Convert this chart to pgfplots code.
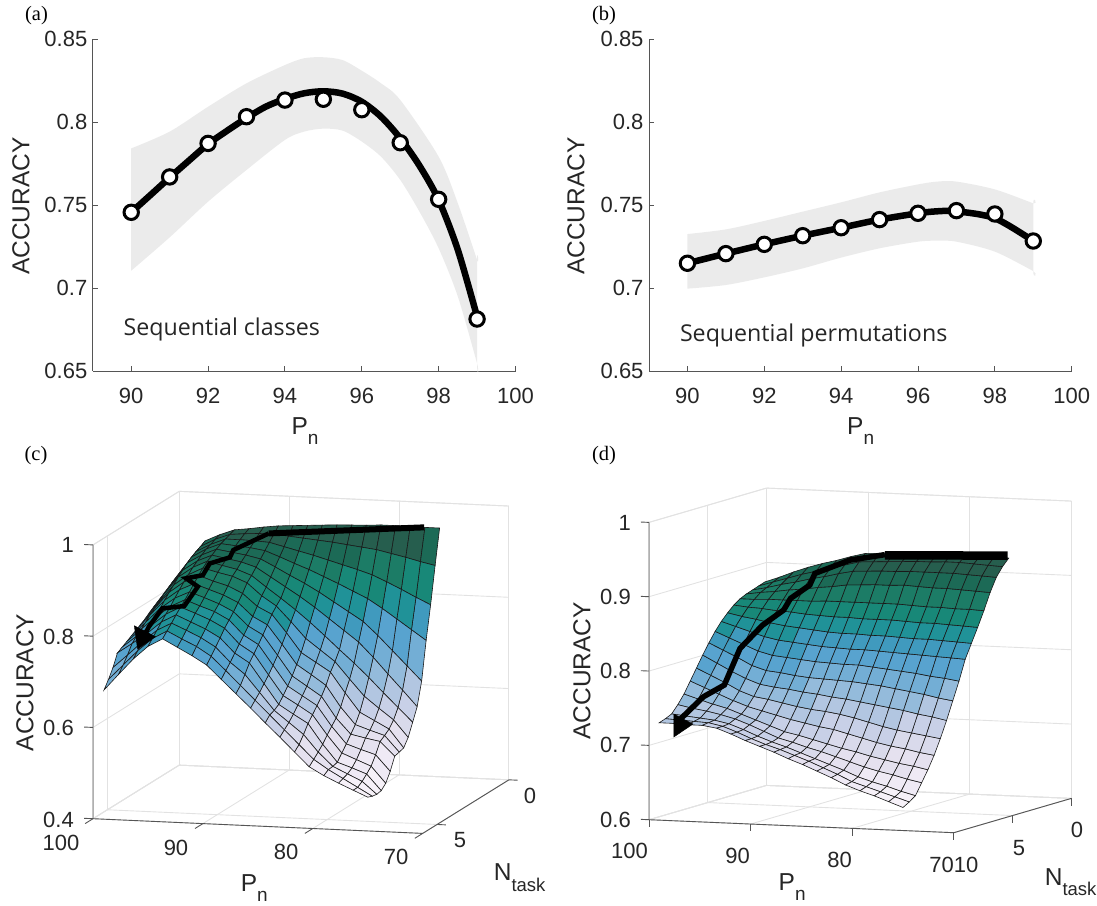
\documentclass[border=0pt]{standalone}
\usepackage{pgfplots}
\pgfplotsset{compat=1.18}
\usepackage{fontspec}
\setmainfont{Liberation Sans}
\newfontfamily\tnr{Liberation Serif}
\newfontfamily\osans{Open Sans}
\definecolor{axd}{HTML}{555555}
\definecolor{greyband}{HTML}{EBEBEB}
\definecolor{gridc}{HTML}{E2E2E2}
\newcommand{\fa}{\fontsize{22}{26}\selectfont}
\newcommand{\fb}{\fontsize{24.5}{28}\selectfont}
\newcommand{\Pn}{P\raisebox{-9.5pt}{\fontsize{19}{19}\selectfont n}}
\newcommand{\Nt}{N\raisebox{-10.5pt}{\fontsize{18.5}{19}\selectfont task}}
\newcommand{\tl}[3]{\node[inner sep=0pt,font=\fa,text=black!85] at ({#1pt},{(905-#2)*1pt}) {#3};}
\newcommand{\tr}[3]{\node[inner sep=0pt,anchor=east,font=\fa,text=black!85] at ({#1pt},{(905-#2)*1pt}) {#3};}
\newcommand{\lb}[3]{\node[inner sep=0pt,anchor=base west,font=\fb,text=black!85] at ({#1pt},{(905-#2)*1pt}) {#3};}
\newcommand{\yl}[3]{\node[inner sep=0pt,font=\fb,rotate=90,text=black!85] at ({#1pt},{(905-#2)*1pt}) {#3};}
\newcommand{\pl}[3]{\node[inner sep=0pt,font=\fontsize{20.5}{22}\selectfont\tnr] at ({#1pt},{(905-#2)*1pt}) {#3};}
\pgfplotsset{
  flat2d/.style={
    scale only axis, width=422.7pt, height=332pt,
    xmin=89, xmax=100, ymin=0.65, ymax=0.85,
    axis x line*=bottom, axis y line*=left,
    axis line style={draw=axd,line width=0.9pt},
    tick style={draw=axd,line width=0.9pt},
    tick align=inside, major tick length=5pt,
    xtick={90,92,94,96,98,100},
    ytick={0.65,0.7,0.75,0.8,0.85},
    yticklabels={0.65,0.7,0.75,0.8,0.85},
    xticklabels={90,92,94,96,98,100},
    tick label style={font=\fa,text=black!85},
    xticklabel style={yshift=-14pt},
    yticklabel style={xshift=-2pt},
    clip=false,
  },
  surf3d/.style={
    axis line style={draw=gridc,line width=0.9pt},
    grid=major, grid style={draw=gridc,line width=0.9pt},
    major tick length=0pt,
    xticklabels={}, yticklabels={}, zticklabels={},
    clip=false,
  },
  surfmap/.style={
    colormap={accmap}{
      rgb255=(246,241,248)
      rgb255=(239,234,245)
      rgb255=(229,225,239)
      rgb255=(217,218,235)
      rgb255=(200,208,231)
      rgb255=(178,198,225)
      rgb255=(148,187,219)
      rgb255=(115,174,213)
      rgb255=(88,163,207)
      rgb255=(64,154,190)
      rgb255=(32,146,152)
      rgb255=(24,136,120)
      rgb255=(28,124,102)
      rgb255=(28,106,86)
      rgb255=(38,94,78)
    },
    colormap access=piecewise constant,
  },
}
\begin{document}
\begin{tikzpicture}[x=1pt,y=1pt]
\path[use as bounding box] (0pt,0pt) rectangle (1097pt,905pt);

% ---------- (a)
\begin{axis}[flat2d, at={(92.8pt,534pt)}, anchor=south west]
\addplot[fill=greyband,draw=none,smooth] coordinates {
(90,0.7841)(91,0.7942)(92,0.8092)(93,0.8233)(94,0.8343)(94.5,0.8384)(95,0.8390)(95.5,0.8373)(96,0.8309)(96.5,0.8233)(97,0.8133)(98,0.7791)(98.5,0.7510)(99,0.7169)(99,0.7169)
(99,0.6546)(99,0.6546)(98.5,0.6948)(98,0.7239)(97.5,0.7460)(97,0.7651)(96.5,0.7791)(96,0.7882)(95.5,0.7948)(95,0.7960)(94.5,0.7942)(94,0.7892)(93,0.7711)(92,0.7520)(91,0.7305)(90,0.7104)};
\addplot[black,line width=6.5pt,smooth,no marks] coordinates {
(90,0.7456)(90.5,0.7560)(91,0.7665)(91.5,0.7767)(92,0.7867)(92.5,0.7948)(93,0.8024)(93.5,0.8092)(94,0.8139)(94.5,0.8173)(95,0.8185)(95.5,0.8171)(96,0.8122)(96.5,0.8032)(97,0.7902)(97.5,0.7737)(98,0.7530)(98.5,0.7229)(99,0.6827)};
\addplot[only marks,mark=*,mark size=7.2pt,mark options={fill=white,draw=black,line width=3pt}] coordinates {
(90,0.7456)(91,0.7669)(92,0.7871)(93,0.8032)(94,0.8132)(95,0.8137)(96,0.8074)(97,0.7875)(98,0.7534)(99,0.6813)};
\end{axis}

% ---------- (b)
\begin{axis}[flat2d, at={(649pt,534pt)}, anchor=south west]
\addplot[fill=greyband,draw=none,smooth] coordinates {
(90,0.7325)(91,0.7353)(92,0.7404)(93,0.7460)(94,0.7516)(95,0.7576)(96,0.7624)(96.5,0.7641)(97,0.7641)(98,0.7594)(99,0.7510)(99,0.7510)
(99,0.7102)(99,0.7102)(98,0.7219)(97,0.7279)(96.5,0.7285)(96,0.7279)(95,0.7239)(94,0.7183)(93,0.7118)(92,0.7064)(91,0.7018)(90,0.6996)};
\addplot[black,line width=6.5pt,smooth,no marks] coordinates {
(90,0.7149)(91,0.7207)(92,0.7263)(93,0.7315)(94,0.7363)(95,0.7412)(96,0.7450)(96.5,0.7462)(97,0.7462)(98,0.7420)(99,0.7283)};
\addplot[only marks,mark=*,mark size=7.2pt,mark options={fill=white,draw=black,line width=3pt}] coordinates {
(90,0.7149)(91,0.7207)(92,0.7263)(93,0.7315)(94,0.7363)(95,0.7412)(96,0.7450)(97,0.7466)(98,0.7446)(99,0.7283)};
\end{axis}

% ---------- (c)
\begin{axis}[surf3d, surfmap, at={(93pt,71.6pt)}, anchor=south west,
  x={(-10.99pt,0.49pt)}, y={(-14.37pt,-8.93pt)}, z={(0pt,456.3pt)},
  xmin=70,xmax=100,ymin=0,ymax=6,zmin=0.4,zmax=1,
  xtick={70,80,90,100}, ytick={0,5}, ztick={0.4,0.6,0.8,1},
  point meta min=0.47, point meta max=0.967]
\addplot3[surf, shader=faceted, faceted color=black!90, line width=0.6pt, z buffer=sort,
  mesh/rows=17, mesh/cols=19]
 table[header=false,row sep=\\,
   x expr={99-1.33333*(\coordindex-19*floor((\coordindex+0.5)/19))},
   y expr={1+0.3125*floor((\coordindex+0.5)/19)}, z index=0] {
0.826\\0.872\\0.915\\0.930\\0.942\\0.946\\0.951\\0.955\\0.957\\0.959\\0.961\\0.963\\0.964\\0.965\\0.967\\0.967\\0.967\\0.966\\0.966\\
0.820\\0.866\\0.909\\0.926\\0.938\\0.941\\0.943\\0.943\\0.940\\0.937\\0.934\\0.931\\0.927\\0.923\\0.919\\0.912\\0.905\\0.897\\0.890\\
0.813\\0.860\\0.904\\0.921\\0.934\\0.934\\0.933\\0.931\\0.923\\0.915\\0.907\\0.898\\0.889\\0.880\\0.870\\0.856\\0.841\\0.825\\0.810\\
0.807\\0.854\\0.898\\0.917\\0.930\\0.927\\0.924\\0.919\\0.907\\0.894\\0.882\\0.868\\0.854\\0.839\\0.824\\0.804\\0.782\\0.760\\0.738\\
0.803\\0.848\\0.891\\0.910\\0.924\\0.919\\0.914\\0.907\\0.891\\0.874\\0.858\\0.840\\0.820\\0.800\\0.780\\0.751\\0.719\\0.687\\0.655\\
0.797\\0.840\\0.881\\0.903\\0.917\\0.911\\0.905\\0.895\\0.875\\0.855\\0.835\\0.813\\0.789\\0.765\\0.741\\0.709\\0.674\\0.640\\0.605\\
0.790\\0.832\\0.872\\0.895\\0.910\\0.902\\0.895\\0.883\\0.859\\0.836\\0.812\\0.786\\0.758\\0.729\\0.701\\0.671\\0.639\\0.608\\0.577\\
0.782\\0.822\\0.861\\0.885\\0.901\\0.893\\0.886\\0.873\\0.846\\0.825\\0.792\\0.757\\0.733\\0.709\\0.672\\0.636\\0.611\\0.587\\0.550\\
0.776\\0.814\\0.851\\0.875\\0.891\\0.880\\0.871\\0.856\\0.829\\0.813\\0.774\\0.732\\0.712\\0.692\\0.648\\0.607\\0.590\\0.573\\0.533\\
0.770\\0.806\\0.840\\0.864\\0.879\\0.868\\0.857\\0.842\\0.813\\0.796\\0.755\\0.712\\0.691\\0.669\\0.623\\0.586\\0.575\\0.565\\0.530\\
0.764\\0.796\\0.828\\0.852\\0.867\\0.856\\0.844\\0.828\\0.798\\0.780\\0.737\\0.693\\0.672\\0.651\\0.605\\0.571\\0.564\\0.558\\0.527\\
0.758\\0.787\\0.815\\0.840\\0.856\\0.844\\0.833\\0.816\\0.784\\0.765\\0.721\\0.677\\0.657\\0.637\\0.593\\0.556\\0.545\\0.535\\0.500\\
0.752\\0.778\\0.803\\0.829\\0.846\\0.834\\0.821\\0.804\\0.771\\0.751\\0.706\\0.662\\0.643\\0.623\\0.580\\0.542\\0.529\\0.516\\0.480\\
0.746\\0.768\\0.791\\0.818\\0.835\\0.821\\0.807\\0.789\\0.757\\0.737\\0.693\\0.649\\0.629\\0.610\\0.566\\0.528\\0.517\\0.505\\0.470\\
0.720\\0.749\\0.779\\0.806\\0.823\\0.809\\0.794\\0.775\\0.743\\0.718\\0.680\\0.642\\0.617\\0.592\\0.555\\0.525\\0.510\\0.495\\0.468\\
0.700\\0.733\\0.766\\0.794\\0.812\\0.796\\0.781\\0.761\\0.731\\0.700\\0.669\\0.638\\0.607\\0.576\\0.545\\0.524\\0.506\\0.488\\0.470\\
0.683\\0.719\\0.754\\0.783\\0.801\\0.784\\0.767\\0.748\\0.718\\0.688\\0.658\\0.627\\0.597\\0.566\\0.535\\0.517\\0.502\\0.488\\0.474\\
};
\addplot3[black,line width=4.5pt,no marks,line join=miter] coordinates {
(90.54,1,0.9375)(93.12,1.5,0.908)(93.16,1.7,0.896)(94.35,2.2,0.891)(94.58,2.5,0.871)(95.46,3,0.873)(94.38,3,0.856)(94.96,3.5,0.8225)(96.31,4,0.8257)(96.88,4.5,0.7947)(96.85,5,0.7753)};
\addplot3[black,line width=6pt,no marks] coordinates {(76.4,1,0.966)(90.54,1,0.9375)};
\addplot3[black,fill=black,no marks] coordinates {(97.55,5,0.806)(95.62,5,0.784)(97.25,5,0.755)(97.55,5,0.806)};
\draw[axd,line width=0.9pt] (axis cs:100,6,1)--(axis cs:100,6,0.4)--(axis cs:70,6,0.4)--(axis cs:70,0,0.4);
\pgfplotsinvokeforeach{100,90,80,70}{\draw[axd,line width=0.9pt] (axis cs:#1,6,0.4)--(axis cs:#1,6.55,0.4);}
\pgfplotsinvokeforeach{0,5}{\draw[axd,line width=0.9pt] (axis cs:70,#1,0.4)--(axis cs:69.2,#1,0.4);}
\pgfplotsinvokeforeach{0.4,0.6,0.8,1}{\draw[axd,line width=0.9pt] (axis cs:100,6,#1)--(axis cs:100.8,6,#1);}
\end{axis}

% ---------- (d)
\begin{axis}[surf3d, surfmap, at={(649pt,72.3pt)}, anchor=south west,
  x={(-10.16pt,0.433pt)}, y={(-11.75pt,-3.43pt)}, z={(0pt,743.3pt)},
  xmin=70,xmax=100,ymin=0,ymax=10,zmin=0.6,zmax=1,
  xtick={70,80,90,100}, ytick={0,5,10}, ztick={0.6,0.7,0.8,0.9,1},
  zticklabels={},
  point meta min=0.631, point meta max=0.927]
\addplot3[surf, shader=faceted, faceted color=black!90, line width=0.6pt, z buffer=sort,
  mesh/rows=18, mesh/cols=18]
 table[header=false,row sep=\\,
   x expr={99-1.41176*(\coordindex-18*floor((\coordindex+0.5)/18))},
   y expr={1+0.52941*floor((\coordindex+0.5)/18)}, z index=0] {
0.879\\0.886\\0.894\\0.901\\0.907\\0.912\\0.918\\0.923\\0.924\\0.925\\0.925\\0.926\\0.926\\0.927\\0.927\\0.926\\0.926\\0.925\\
0.876\\0.882\\0.888\\0.894\\0.899\\0.904\\0.909\\0.914\\0.915\\0.916\\0.917\\0.918\\0.918\\0.919\\0.919\\0.918\\0.917\\0.916\\
0.873\\0.877\\0.882\\0.886\\0.891\\0.895\\0.900\\0.904\\0.905\\0.906\\0.906\\0.907\\0.907\\0.907\\0.907\\0.906\\0.905\\0.904\\
0.870\\0.873\\0.875\\0.878\\0.880\\0.883\\0.885\\0.888\\0.889\\0.890\\0.890\\0.891\\0.890\\0.889\\0.889\\0.888\\0.887\\0.886\\
0.866\\0.866\\0.867\\0.867\\0.867\\0.867\\0.868\\0.868\\0.868\\0.868\\0.868\\0.868\\0.867\\0.866\\0.866\\0.865\\0.865\\0.864\\
0.860\\0.858\\0.857\\0.855\\0.854\\0.852\\0.851\\0.850\\0.850\\0.849\\0.849\\0.849\\0.848\\0.847\\0.847\\0.846\\0.845\\0.844\\
0.852\\0.848\\0.845\\0.841\\0.838\\0.836\\0.834\\0.832\\0.831\\0.831\\0.830\\0.830\\0.829\\0.828\\0.828\\0.827\\0.826\\0.825\\
0.843\\0.837\\0.831\\0.825\\0.821\\0.819\\0.817\\0.815\\0.814\\0.813\\0.813\\0.812\\0.811\\0.810\\0.809\\0.808\\0.807\\0.806\\
0.832\\0.824\\0.816\\0.808\\0.803\\0.801\\0.799\\0.797\\0.796\\0.795\\0.795\\0.793\\0.791\\0.789\\0.787\\0.784\\0.782\\0.779\\
0.819\\0.810\\0.801\\0.791\\0.785\\0.783\\0.780\\0.778\\0.777\\0.776\\0.775\\0.773\\0.771\\0.768\\0.765\\0.762\\0.758\\0.755\\
0.805\\0.795\\0.785\\0.776\\0.769\\0.766\\0.764\\0.761\\0.759\\0.756\\0.754\\0.751\\0.748\\0.745\\0.742\\0.738\\0.735\\0.731\\
0.790\\0.781\\0.772\\0.762\\0.755\\0.752\\0.748\\0.744\\0.741\\0.739\\0.736\\0.732\\0.727\\0.722\\0.718\\0.715\\0.712\\0.709\\
0.775\\0.767\\0.759\\0.751\\0.744\\0.739\\0.734\\0.729\\0.725\\0.721\\0.718\\0.713\\0.708\\0.703\\0.699\\0.696\\0.692\\0.689\\
0.760\\0.754\\0.748\\0.743\\0.736\\0.729\\0.722\\0.715\\0.711\\0.706\\0.701\\0.696\\0.692\\0.687\\0.683\\0.679\\0.676\\0.672\\
0.748\\0.744\\0.741\\0.737\\0.732\\0.725\\0.717\\0.709\\0.704\\0.698\\0.693\\0.687\\0.681\\0.675\\0.670\\0.666\\0.661\\0.657\\
0.738\\0.736\\0.734\\0.732\\0.728\\0.721\\0.713\\0.706\\0.700\\0.693\\0.686\\0.679\\0.672\\0.664\\0.658\\0.653\\0.647\\0.642\\
0.734\\0.733\\0.732\\0.731\\0.727\\0.720\\0.712\\0.705\\0.699\\0.692\\0.685\\0.677\\0.669\\0.660\\0.654\\0.648\\0.642\\0.636\\
0.731\\0.731\\0.730\\0.730\\0.727\\0.720\\0.712\\0.705\\0.698\\0.690\\0.683\\0.675\\0.667\\0.658\\0.651\\0.645\\0.638\\0.631\\
};
\addplot3[black,line width=5.5pt,no marks,line join=miter] coordinates {
(98.2,9,0.7300)(96.38,8.5,0.7606)(94.9,8,0.7749)(94.51,7,0.8198)(93.44,6,0.8472)(92.53,5,0.8633)(92.43,4.5,0.8767)(91.69,3.5,0.8905)(91.76,3,0.9039)(90.06,1.5,0.9158)(87.2,1,0.9225)};
\addplot3[black,line width=8.5pt,no marks] coordinates {(87.2,1,0.9214)(75.12,1,0.9284)};
\addplot3[black,fill=black,no marks] coordinates {(98.71,9,0.7383)(98.71,9,0.7074)(96.83,9,0.7259)(98.71,9,0.7383)};
\draw[axd,line width=0.9pt] (axis cs:100,10,1)--(axis cs:100,10,0.6)--(axis cs:70,10,0.6)--(axis cs:70,0,0.6);
\pgfplotsinvokeforeach{100,90,80,70}{\draw[axd,line width=0.9pt] (axis cs:#1,10,0.6)--(axis cs:#1,10,0.59);}
\pgfplotsinvokeforeach{0,5,10}{\draw[axd,line width=0.9pt] (axis cs:70,#1,0.6)--(axis cs:70,#1,0.59);}
\pgfplotsinvokeforeach{0.6,0.7,0.8,0.9,1}{\draw[axd,line width=0.9pt] (axis cs:100,10,#1)--(axis cs:100.8,10,#1);}
\end{axis}

% ---------- text
\pl{36.5}{15.7}{(a)} \pl{604}{15.7}{(b)} \pl{36}{456}{(c)} \pl{604}{456}{(d)}
\yl{21}{206}{ACCURACY} \yl{576}{206}{ACCURACY} \yl{25}{682.5}{ACCURACY} \yl{582}{670.8}{ACCURACY}
\lb{291.4}{435}{\Pn} \lb{847}{435}{\Pn} \lb{240.7}{891.7}{\Pn} \lb{778.5}{890.7}{\Pn}
\lb{493.6}{880.7}{\Nt} \lb{1044.6}{885}{\Nt}
\node[inner sep=0pt,anchor=west,font=\fontsize{23.2}{27}\selectfont\osans,text=black!85] at (123.4pt,576pt) {Sequential classes};
\node[inner sep=0pt,anchor=west,font=\fontsize{23.2}{27}\selectfont\osans,text=black!85] at (679.8pt,570pt) {Sequential permutations};
% panel c tick labels
\tr{74}{545}{1}\tr{74}{636.5}{0.8}\tr{74}{727.5}{0.6}\tr{74}{820}{0.4}
\tl{61}{843}{100}\tl{176}{848}{90}\tl{286}{852}{80}\tl{396}{857}{70}
\tl{460}{840}{5}\tl{530}{796}{0}
% panel d tick labels
\tr{631}{523}{1}\tr{631}{597}{0.9}\tr{631}{671}{0.8}\tr{631}{745}{0.7}\tr{631}{820}{0.6}
\tl{629.5}{851}{100}\tl{737.6}{856}{90}\tl{839.5}{860}{80}\tl{941.5}{865}{70}\tl{966}{865}{10}
\tl{1019}{848}{5}\tl{1077}{830}{0}
\end{tikzpicture}
\end{document}
